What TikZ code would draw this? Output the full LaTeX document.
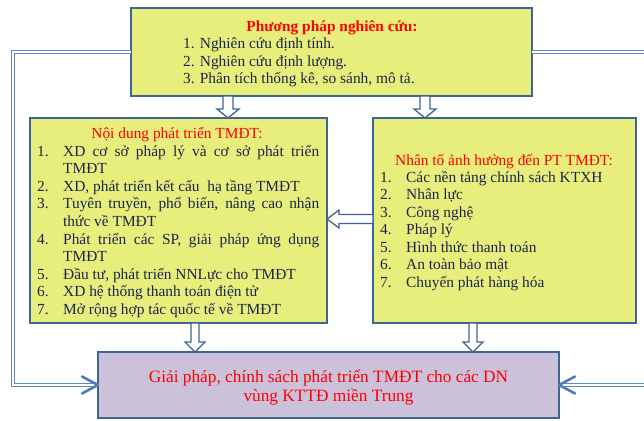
\documentclass[tikz,border=0pt]{standalone}
\usepackage{fontspec}
\setmainfont{Liberation Serif}
\usetikzlibrary{calc}
\definecolor{boxfill}{HTML}{E8EE7C}
\definecolor{boxline}{HTML}{3F6495}
\definecolor{botfill}{HTML}{CCC1DA}
\definecolor{txt}{HTML}{1C2549}
\definecolor{conn}{HTML}{5F8AC6}
\definecolor{chevc}{HTML}{4D7BBE}
\definecolor{redt}{HTML}{FF0000}
\newcommand\hollowV[6]{%
  \draw[harrow] (#1-#4,#2) -- (#1-#4,#3-#6) -- (#1-#5,#3-#6) -- (#1,#3) -- (#1+#5,#3-#6) -- (#1+#4,#3-#6) -- (#1+#4,#2) -- cycle;}
\newcommand\hollowHL[6]{% x0 (tail), x1 (tip), cy, sh, hh, hl
  \draw[harrow] (#1,#3-#4) -- (#2+#6,#3-#4) -- (#2+#6,#3-#5) -- (#2,#3) -- (#2+#6,#3+#5) -- (#2+#6,#3+#4) -- (#1,#3+#4) -- cycle;}
\begin{document}
\begin{tikzpicture}[x=1pt,y=-1pt,
  box/.style={draw=boxline, line width=1.6pt, fill=boxfill, inner sep=0pt, outer sep=0pt, rectangle},
  harrow/.style={draw=boxline, line width=1.3pt, fill=white, line join=miter},
  dblline/.style={draw=conn, line width=1pt, double=white, double distance=1.5pt, line join=miter},
  chev/.style={draw=chevc, line width=2.6pt, line cap=round, line join=round},
  tl/.style={anchor=base west, inner sep=0pt, text=txt, font=\fontsize{15.4}{17.6}\selectfont},
  tt/.style={anchor=base, inner sep=0pt, text=redt, font=\fontsize{15.4}{17.6}\selectfont},
]
\useasboundingbox (0,0) rectangle (644,420);
\fill[white] (0,0) rectangle (644,420);

% boxes
\node[box, minimum width=401pt, minimum height=88pt] (top) at (331.5,52) {};
\node[box, minimum width=297pt, minimum height=205pt] (lft) at (178.5,220.5) {};
\node[box, minimum width=263pt, minimum height=205pt] (rgt) at (504.5,220.5) {};
\node[box, fill=botfill, minimum width=461pt, minimum height=66pt] (bot) at (328.5,385) {};

% connectors
\coordinate (lc) at (13,52);
\coordinate (rt) at (650,52);
\coordinate (rb) at (650,385);
\draw[dblline] (top.west) -- (lc) |- (bot.west);
\draw[dblline] (top.east) -- (rt);
\draw[dblline] (rb) -- (bot.east);
\draw[chev] ([shift={(-16,-8.5)}]bot.west) -- (bot.west) -- ([shift={(-16,8.5)}]bot.west);
\draw[chev] ([shift={(16,-8.5)}]bot.east) -- (bot.east) -- ([shift={(16,8.5)}]bot.east);

% hollow arrows
\hollowV{228}{96}{118}{5}{11}{9}
\hollowV{425}{96}{118}{5}{11}{9}
\hollowV{195}{323}{352}{4}{10}{10}
\hollowV{473}{323}{352}{4}{10}{10}
\hollowHL{373}{327}{219}{4.5}{9}{12}

% top box text
\node[tt, font=\fontsize{15.4}{17.6}\selectfont\bfseries] (t0) at (332,31) {Phương pháp nghiên cứu:};
\node[tl] (t1) at (183,48.6) {1. Nghiên cứu định tính.};
\node[tl] (t2) at (183,66.2) {2. Nghiên cứu định lượng.};
\node[tl] (t3) at (183,83.8) {3. Phân tích thống kê, so sánh, mô tả.};

% left box text
\node[tt] (l0) at (177,138) {Nội dung phát triển TMĐT:};
\node[tl] (ln1) at (37,156) {1.};
\node[tl] (lt1) at (63,156) {\makebox[256pt][s]{XD cơ sở pháp lý và cơ sở phát triển}};
\node[tl] (lt1b) at (63,173.6) {TMĐT};
\node[tl] (ln2) at (37,191.2) {2.};
\node[tl] (lt2) at (63,191.2) {XD, phát triển kết cấu\ \ hạ tầng TMĐT};
\node[tl] (ln3) at (37,208.8) {3.};
\node[tl] (lt3) at (63,208.8) {\makebox[256pt][s]{Tuyên truyền, phổ biến, nâng cao nhận}};
\node[tl] (lt3b) at (63,226.4) {thức về TMĐT};
\node[tl] (ln4) at (37,244) {4.};
\node[tl] (lt4) at (63,244) {\makebox[256pt][s]{Phát triển các SP, giải pháp ứng dụng}};
\node[tl] (lt4b) at (63,261.6) {TMĐT};
\node[tl] (ln5) at (37,279.2) {5.};
\node[tl] (lt5) at (63,279.2) {Đầu tư, phát triển NNLực cho TMĐT};
\node[tl] (ln6) at (37,296.8) {6.};
\node[tl] (lt6) at (63,296.8) {XD hệ thống thanh toán điện tử};
\node[tl] (ln7) at (37,314.4) {7.};
\node[tl] (lt7) at (63,314.4) {Mở rộng hợp tác quốc tế về TMĐT};

% right box text
\node[tt] (r0) at (504,165) {Nhân tố ảnh hưởng đến PT TMĐT:};
\node[tl] (rn1) at (380,182) {1.};
\node[tl] (rt1) at (406,182) {Các nền tảng chính sách KTXH};
\node[tl] (rn2) at (380,199.5) {2.};
\node[tl] (rt2) at (406,199.5) {Nhân lực};
\node[tl] (rn3) at (380,217) {3.};
\node[tl] (rt3) at (406,217) {Công nghệ};
\node[tl] (rn4) at (380,234.5) {4.};
\node[tl] (rt4) at (406,234.5) {Pháp lý};
\node[tl] (rn5) at (380,252) {5.};
\node[tl] (rt5) at (406,252) {Hình thức thanh toán};
\node[tl] (rn6) at (380,269.5) {6.};
\node[tl] (rt6) at (406,269.5) {An toàn bảo mật};
\node[tl] (rn7) at (380,287) {7.};
\node[tl] (rt7) at (406,287) {Chuyển phát hàng hóa};

% bottom box text
\node[tt, font=\fontsize{17.3}{19}\selectfont] (b1) at (328.5,382) {Giải pháp, chính sách phát triển TMĐT cho các DN};
\node[tt, font=\fontsize{17.3}{19}\selectfont] (b2) at (328.5,401) {vùng KTTĐ miền Trung};
\end{tikzpicture}
\end{document}
